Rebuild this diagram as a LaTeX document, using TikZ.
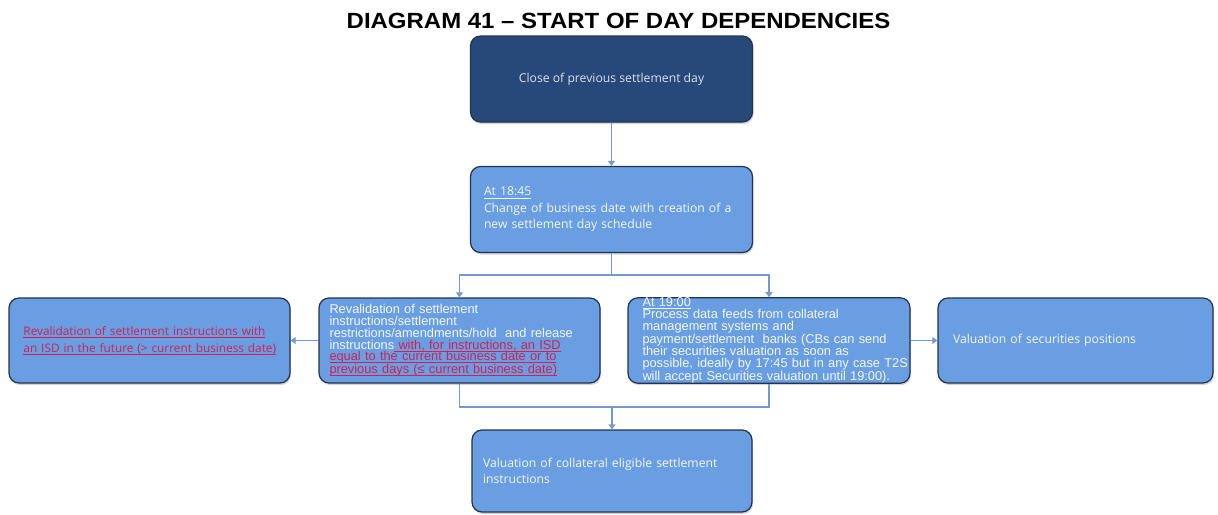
\documentclass[tikz,border=0pt]{standalone}
\usepackage{fontspec}
\setmainfont{Liberation Sans}
\newfontfamily\aptos{Open Sans}
\usetikzlibrary{arrows.meta,shadows}

\definecolor{navy}{HTML}{27497A}
\definecolor{midblue}{HTML}{6A9EE2}
\definecolor{edgecol}{HTML}{23344F}
\definecolor{conncol}{HTML}{7399D2}
\definecolor{redtxt}{HTML}{D42050}
\definecolor{lighttxt}{HTML}{F3F7FC}
\definecolor{greytxt}{HTML}{D8E0EC}

\tikzset{
  card/.style={draw=edgecol, line width=1.2pt, rounded corners=10pt, fill=midblue,
    minimum width=281pt, minimum height=85pt, inner sep=0pt,
    drop shadow={opacity=0.35, shadow xshift=1pt, shadow yshift=-2pt},
    text=lighttxt, align=left},
  darkcard/.style={card, fill=navy, text=greytxt, align=center},
  conn/.style={draw=conncol, line width=1.5pt},
  tipped/.style={conn, -{Triangle[length=5pt,width=7pt]}},
  aptxt/.style={font=\aptos\fontsize{12.2}{16.5}\selectfont},
  artxt/.style={font=\fontsize{12.8}{11.7}\selectfont},
}
\newcommand{\myul}[1]{\leavevmode\setbox0\hbox{#1}\rlap{\vrule width\wd0 height-1.6pt depth2.2pt}\box0}
\newcommand{\rl}[1]{\leavevmode{\color{redtxt}\myul{#1}}}

\begin{document}
\begin{tikzpicture}[x=1pt,y=-1pt]
\useasboundingbox (0,0) rectangle (1218,514);

\node[font=\bfseries\fontsize{22}{24}\selectfont, xscale=1.09, transform shape, inner sep=0pt] (title) at (618.5,20.5)
  {DIAGRAM 41 -- START OF DAY DEPENDENCIES};

\node[darkcard, aptxt, minimum height=86pt, minimum width=282pt] (b1) at (611.5,79)
  {Close of previous settlement day};

\node[card, aptxt, minimum height=86pt, minimum width=282pt, text width=255pt] (b2) at (611.5,209.5)
  {\myul{At 18:45}\\Change of business date with creation of a\\new settlement day schedule};

\node[card, artxt, text width=266pt] (ml) at (459.5,340.5)
  {\hspace*{3pt}Revalidation of settlement\\
   \hspace*{3pt}instructions/settlement\\
   \hspace*{3pt}restrictions/amendments/hold\ \ and release\\
   \hspace*{3pt}instructions\rl{ with, for instructions, an ISD}\\
   \hspace*{3pt}\rl{equal to the current business date or to}\\
   \hspace*{3pt}\rl{previous days (≤ current business date)}};

\node[card, artxt, minimum width=282pt, text width=279pt] (mr) at (769,340.5)
  {\hspace*{13pt}\myul{At 19:00}\\
   \hspace*{13pt}Process data feeds from collateral\\
   \hspace*{13pt}management systems and\\
   \hspace*{13pt}payment/settlement\ \ banks (CBs can send\\
   \hspace*{13pt}their securities valuation as soon as\\
   \hspace*{13pt}possible, ideally by 17:45 but in any case T2S\\
   \hspace*{13pt}will accept Securities valuation until 19:00).};

\node[card, aptxt, font=\aptos\fontsize{11.8}{16.5}\selectfont, text width=270pt] (fl) at (149.5,340.5)
  {\hspace*{9pt}\rl{Revalidation of settlement instructions with}\\
   \hspace*{9pt}\rl{an ISD in the future (> current business date)}};

\node[card, aptxt, minimum width=275pt, text width=245pt] (fr) at (1075.5,340.5)
  {Valuation of securities positions};

\node[card, aptxt, minimum width=280pt, minimum height=82pt, text width=258pt] (bot) at (612,471)
  {Valuation of collateral eligible settlement\\instructions};

\coordinate (j1) at (611.5,275);
\coordinate (j2) at (612,407);

\draw[tipped] (b1.south) -- (b2.north);
\draw[conn] (b2.south) -- (j1);
\draw[tipped] (j1) -| (ml.north);
\draw[tipped] (j1) -| (mr.north);
\draw[tipped] (ml.west) -- (fl.east);
\draw[tipped] (mr.east) -- (fr.west);
\draw[conn] (ml.south) |- (j2) -| (mr.south);
\draw[tipped] (j2) -- (bot.north);
\end{tikzpicture}
\end{document}
